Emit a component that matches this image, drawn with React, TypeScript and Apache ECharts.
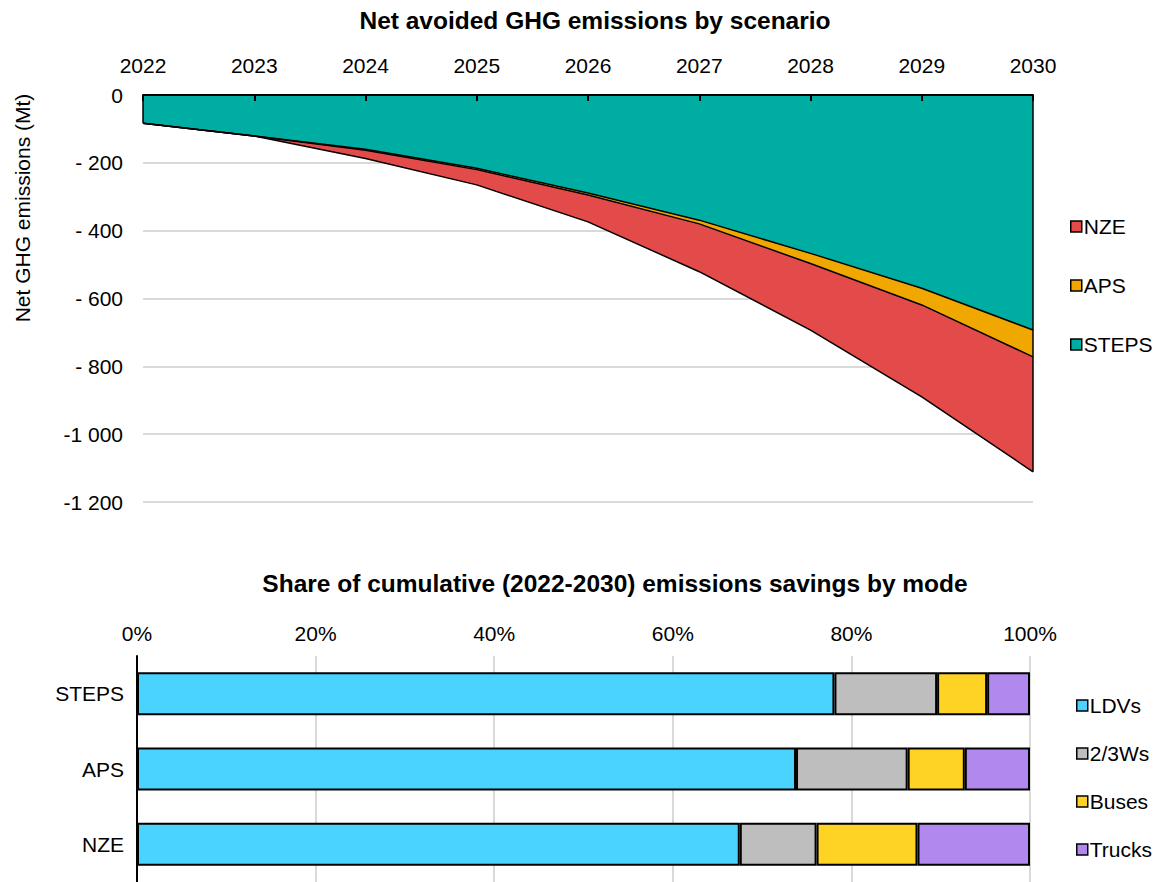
import React, { useEffect, useRef } from "react";
import * as echarts from "echarts";

const years = ["2022", "2023", "2024", "2025", "2026", "2027", "2028", "2029", "2030"];
const nze = [-83, -121, -187, -265, -374, -521, -693, -890, -1111];
const aps = [-83, -121, -163, -220, -295, -380, -497, -619, -772];
const steps = [-83, -121, -160, -216, -289, -369, -467, -570, -693];

const scenarios = ["STEPS", "APS", "NZE"];
const ldvs = [78.1, 73.8, 67.5];
const twoThreeWs = [11.5, 12.5, 8.6];
const buses = [5.6, 6.4, 11.3];
const trucks = [4.8, 7.3, 12.6];

const FONT = "Liberation Sans, Arial, sans-serif";

function fmtY(v: number): string {
  if (v === 0) return "0";
  const a = Math.abs(v);
  if (a >= 1000) {
    const s = String(a);
    return "-" + s.slice(0, s.length - 3) + " " + s.slice(s.length - 3);
  }
  return "- " + a;
}

export default function App() {
  const ref = useRef<HTMLDivElement>(null);
  useEffect(() => {
    document.body.style.margin = "0";
    document.body.style.overflow = "hidden";
    const chart = echarts.init(ref.current!, null, { renderer: "svg" });
    const txt = { fontFamily: FONT, fontSize: 21, color: "#000" };
    chart.setOption({
      animation: false,
      backgroundColor: "#fff",
      textStyle: { fontFamily: FONT },
      graphic: [
        {
          type: "text",
          x: 595,
          y: 20,
          style: { text: "Net avoided GHG emissions by scenario", font: "bold 24.5px " + FONT, fill: "#000", textAlign: "center", textVerticalAlign: "middle" },
        },
        {
          type: "text",
          x: 615,
          y: 583,
          style: { text: "Share of cumulative (2022-2030) emissions savings by mode", font: "bold 24.5px " + FONT, fill: "#000", textAlign: "center", textVerticalAlign: "middle" },
        },
        {
          type: "text",
          x: 22,
          y: 208,
          rotation: Math.PI / 2,
          style: { text: "Net GHG emissions (Mt)", font: "21px " + FONT, fill: "#000", textAlign: "center", textVerticalAlign: "middle" },
        },
      ],
      legend: [
        {
          data: ["NZE", "APS", "STEPS"],
          orient: "vertical",
          left: 1065,
          top: 211,
          itemGap: 38,
          icon: "rect",
          itemWidth: 11,
          itemHeight: 11,
          itemStyle: { borderColor: "#000", borderWidth: 1.5 },
          textStyle: { ...txt, padding: [0, 0, 0, -3] },
        },
        {
          data: ["LDVs", "2/3Ws", "Buses", "Trucks"],
          orient: "vertical",
          left: 1071,
          top: 690,
          itemGap: 27,
          icon: "rect",
          itemWidth: 11,
          itemHeight: 11,
          itemStyle: { borderColor: "#000", borderWidth: 1.5 },
          textStyle: { ...txt, padding: [0, 0, 0, -3] },
        },
      ],
      grid: [
        { left: 143, right: 132, top: 95, height: 407 },
        { left: 137, right: 135, top: 656, height: 228 },
      ],
      xAxis: [
        {
          gridIndex: 0,
          type: "category",
          data: years,
          position: "top",
          boundaryGap: false,
          z: 10,
          axisLine: { lineStyle: { color: "#000", width: 2 } },
          axisTick: { inside: true, length: 6, lineStyle: { color: "#000", width: 2 } },
          axisLabel: { ...txt, margin: 19 },
        },
        {
          gridIndex: 1,
          type: "value",
          position: "top",
          min: 0,
          max: 100,
          interval: 20,
          axisLine: { show: false },
          axisTick: { show: false },
          axisLabel: { ...txt, margin: 12, formatter: "{value}%" },
          splitLine: { lineStyle: { color: "#d9d9d9", width: 2 } },
        },
      ],
      yAxis: [
        {
          gridIndex: 0,
          type: "value",
          min: -1200,
          max: 0,
          interval: 200,
          axisLine: { show: false },
          axisTick: { show: false },
          axisLabel: { ...txt, margin: 20, formatter: (v: number) => fmtY(v) },
          splitLine: { lineStyle: { color: "#d9d9d9", width: 2 } },
        },
        {
          gridIndex: 1,
          type: "category",
          data: scenarios,
          inverse: true,
          z: 10,
          axisLine: { lineStyle: { color: "#000", width: 2 } },
          axisTick: { show: false },
          axisLabel: { ...txt, margin: 13 },
        },
      ],
      series: [
        {
          name: "NZE",
          type: "line",
          xAxisIndex: 0,
          yAxisIndex: 0,
          data: nze,
          showSymbol: false,
          itemStyle: { color: "#E34B4A" },
          lineStyle: { color: "#000", width: 1.5 },
          areaStyle: { color: "#E34B4A", opacity: 1 },
          markLine: {
            silent: true,
            symbol: "none",
            label: { show: false },
            lineStyle: { color: "#000", width: 1.5, type: "solid" },
            data: [[{ coord: [years[8], 0] }, { coord: [years[8], nze[8]] }]],
          },
        },
        {
          name: "APS",
          type: "line",
          xAxisIndex: 0,
          yAxisIndex: 0,
          data: aps,
          showSymbol: false,
          itemStyle: { color: "#F0A800" },
          lineStyle: { color: "#000", width: 1.5 },
          areaStyle: { color: "#F0A800", opacity: 1 },
        },
        {
          name: "STEPS",
          type: "line",
          xAxisIndex: 0,
          yAxisIndex: 0,
          data: steps,
          showSymbol: false,
          itemStyle: { color: "#00ADA3" },
          lineStyle: { color: "#000", width: 1.5 },
          areaStyle: { color: "#00ADA3", opacity: 1 },
          markLine: {
            silent: true,
            symbol: "none",
            label: { show: false },
            lineStyle: { color: "#000", width: 1.5, type: "solid" },
            data: [[{ coord: [years[0], 0] }, { coord: [years[0], steps[0]] }]],
          },
        },
        ...[
          { name: "LDVs", data: ldvs, color: "#4BD3FF" },
          { name: "2/3Ws", data: twoThreeWs, color: "#BEBEBE" },
          { name: "Buses", data: buses, color: "#FFD324" },
          { name: "Trucks", data: trucks, color: "#B088EE" },
        ].map((s) => ({
          name: s.name,
          type: "bar",
          xAxisIndex: 1,
          yAxisIndex: 1,
          stack: "modes",
          data: s.data,
          barWidth: 43,
          itemStyle: { color: s.color, borderColor: "#000", borderWidth: 2 },
        })),
      ],
    });
    return () => chart.dispose();
  }, []);
  return <div ref={ref} style={{ width: 1165, height: 882 }} />;
}
